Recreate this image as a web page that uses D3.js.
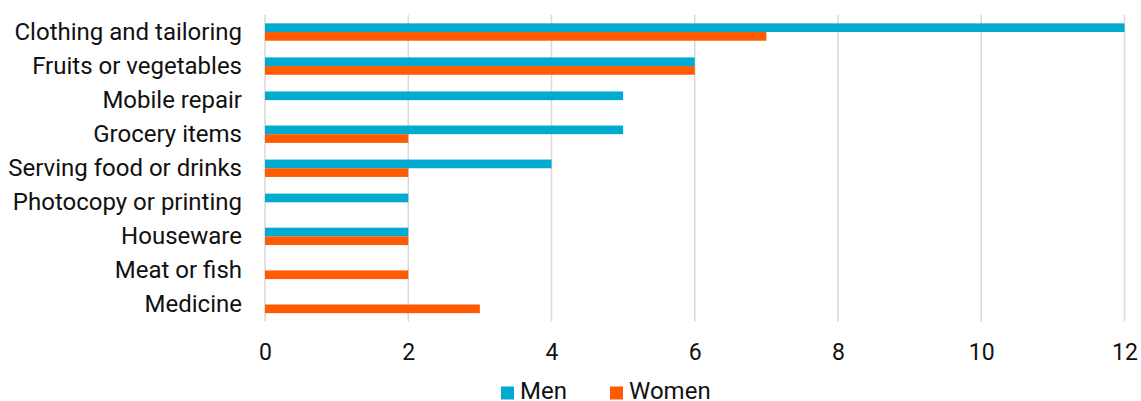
<!DOCTYPE html>
<html>
<head>
<meta charset="utf-8">
<script src="https://cdn.jsdelivr.net/npm/d3@7"></script>
<style>
  body { margin: 0; background: #fff; }
  svg { display: block; font-family: Roboto, sans-serif; }
</style>
</head>
<body>
<svg id="chart"></svg>
<script>
const width = 1141;
const height = 401;
const margin = { top: 15, right: 16, bottom: 80, left: 265 };

const categories = [
    'Clothing and tailoring',
    'Fruits or vegetables',
    'Mobile repair',
    'Grocery items',
    'Serving food or drinks',
    'Photocopy or printing',
    'Houseware',
    'Meat or fish',
    'Medicine'
];
const seriesNames = ['Men', 'Women'];
const menValues = [12, 6, 5, 5, 4, 2, 2, 0, 0];
const womenValues = [7, 6, 0, 2, 2, 0, 2, 2, 3];
const xTicks = [0, 2, 4, 6, 8, 10, 12];

const colors = { 'Men': '#00abcf', 'Women': '#ff5b00' };

const rows = categories.map((c, i) => ({ category: c, Men: menValues[i], Women: womenValues[i] }));

const svg = d3.select('#chart')
    .attr('width', width)
    .attr('height', height);

const xScale = d3.scaleLinear()
    .domain([0, 12])
    .range([margin.left, width - margin.right - 0.5]);

const yScale = d3.scaleBand()
    .domain(categories)
    .range([margin.top, height - margin.bottom + 0.5])
    .paddingInner(0.49)
    .paddingOuter(0.245);

const subScale = d3.scaleBand()
    .domain(seriesNames)
    .range([0, yScale.bandwidth()]);

// gridlines
svg.append('g')
    .selectAll('line')
    .data(xTicks)
    .enter()
    .append('line')
    .attr('x1', d => xScale(d))
    .attr('x2', d => xScale(d))
    .attr('y1', margin.top)
    .attr('y2', height - margin.bottom + 0.5)
    .attr('stroke', '#d9d9d9')
    .attr('stroke-width', 1.5);

// bars
const groups = svg.append('g')
    .selectAll('g')
    .data(rows)
    .enter()
    .append('g')
    .attr('transform', d => `translate(0, ${yScale(d.category)})`);

groups.selectAll('rect')
    .data(d => seriesNames.map(s => ({ key: s, value: d[s] })).filter(e => e.value > 0))
    .enter()
    .append('rect')
    .attr('x', xScale(0))
    .attr('y', d => subScale(d.key))
    .attr('width', d => xScale(d.value) - xScale(0))
    .attr('height', subScale.bandwidth())
    .attr('fill', d => colors[d.key]);

// x axis
const xAxis = svg.append('g')
    .attr('transform', `translate(0, ${height - margin.bottom + 0.5})`)
    .call(d3.axisBottom(xScale).tickValues(xTicks).tickSize(0).tickPadding(22));
xAxis.select('.domain').remove();
xAxis.selectAll('text')
    .style('font-size', '23px')
    .style('font-family', 'Roboto, sans-serif')
    .attr('fill', '#111');

// y axis
const yAxis = svg.append('g')
    .attr('transform', `translate(${margin.left}, 0)`)
    .call(d3.axisLeft(yScale).tickSize(0).tickPadding(23));
yAxis.select('.domain').remove();
yAxis.selectAll('text')
    .style('font-size', '24px')
    .style('font-family', 'Roboto, sans-serif')
    .attr('fill', '#111');

// legend
const legendX = [501, 610];
const legend = svg.append('g');
legend.selectAll('.legend-item')
    .data(seriesNames)
    .enter()
    .append('g')
    .attr('class', 'legend-item')
    .attr('transform', (d, i) => `translate(${legendX[i]}, 386.5)`)
    .each(function(d) {
        d3.select(this).append('rect')
            .attr('width', 13)
            .attr('height', 13)
            .attr('fill', colors[d]);
        d3.select(this).append('text')
            .attr('x', 19)
            .attr('y', 12.5)
            .text(d)
            .style('font-size', '24px')
            .attr('fill', '#111');
    });
</script>
</body>
</html>
